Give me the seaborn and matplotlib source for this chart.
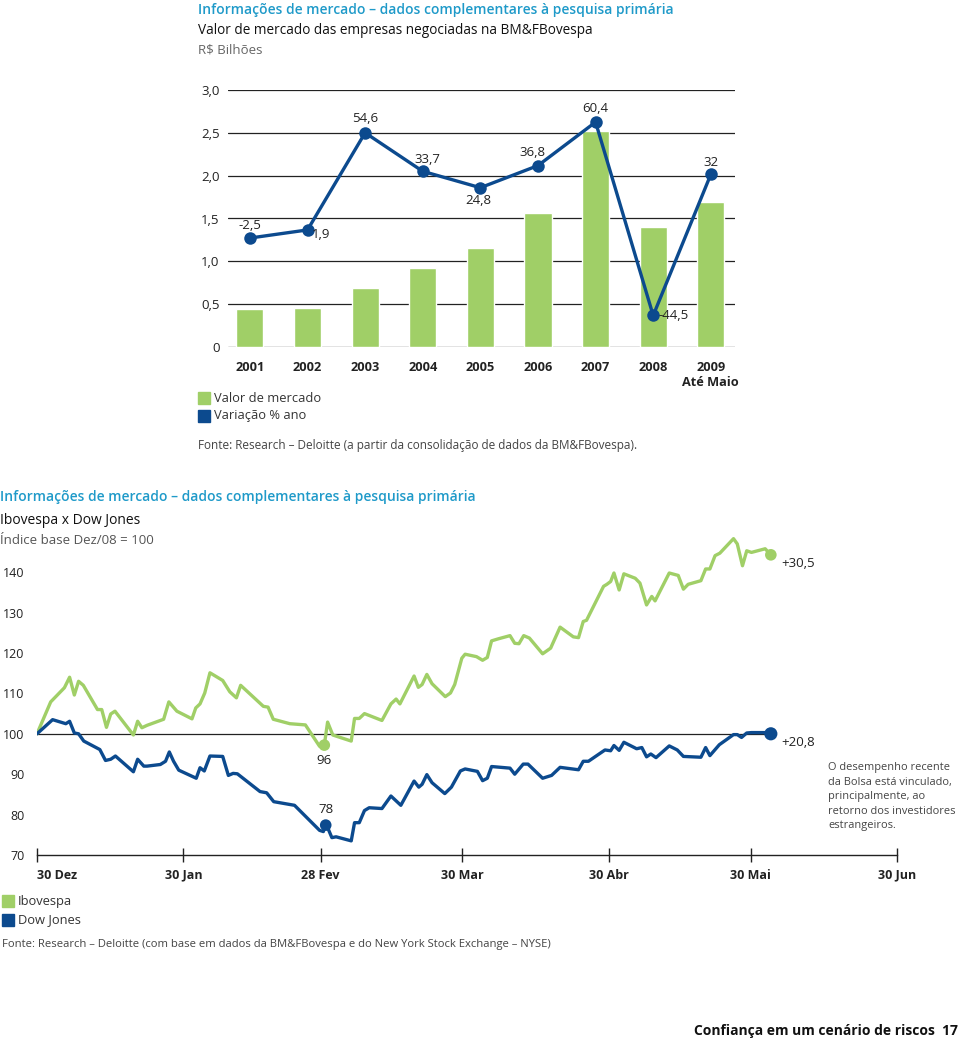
import numpy as np
import pandas as pd
import matplotlib
matplotlib.use("Agg")
import matplotlib.pyplot as plt
import seaborn as sns
from matplotlib.patches import Rectangle

GREEN = "#a0cf67"
BLUE = "#0c4a8e"
TEAL = "#1f9ac9"

# top chart: valor de mercado (R$ bilhões) and variação % ano
years = ["2001", "2002", "2003", "2004", "2005", "2006", "2007", "2008", "2009"]
market_value = [0.44, 0.45, 0.69, 0.92, 1.15, 1.57, 2.52, 1.40, 1.69]
pct_change = [-2.5, 1.9, 54.6, 33.7, 24.8, 36.8, 60.4, -44.5, 32]
pct_labels = ["-2,5", "1,9", "54,6", "33,7", "24,8", "36,8", "60,4", "-44,5", "32"]
top_yticks = [0, 0.5, 1.0, 1.5, 2.0, 2.5, 3.0]
top_yticklabels = ["0", "0,5", "1,0", "1,5", "2,0", "2,5", "3,0"]

# bottom chart: days since 30 Dez 2008, index base Dez/08 = 100
ibov_day = [0, 2.9, 5.8, 6.9, 7.9, 8.8, 9.8, 12.8, 13.7, 14.7, 15.6, 16.5, 20.4, 21.3,
            22.2, 23.3, 26.8, 27.9, 29.6, 32.8, 33.6, 34.5, 35.5, 36.6, 39.3, 40.8,
            42.2, 43.1, 47.9, 48.9, 50.0, 53.5, 56.8, 59.8, 60.8, 61.5, 62.6, 66.5,
            67.2, 68.2, 69.3, 73.0, 74.9, 76.0, 76.8, 79.8, 80.7, 81.5, 82.5, 83.6,
            86.4, 87.5, 88.4, 89.9, 90.6, 93.0, 94.3, 95.3, 96.2, 97.6, 100.1, 101.1,
            102.0, 103.0, 104.2, 107.0, 108.7, 110.7, 113.5, 114.6, 115.6, 116.3,
            119.9, 120.6, 121.4, 122.1, 123.2, 124.2, 126.6, 127.6, 129.0, 130.1,
            130.8, 133.8, 135.7, 136.8, 137.8, 140.5, 141.5, 142.4, 143.5, 144.5,
            147.4, 148.2, 149.3, 150.2, 151.2, 154.1, 155.3]
ibov_val = [100, 107.9, 111.4, 114.0, 109.6, 113.0, 112.0, 106.0, 106.0, 101.6, 104.9,
            105.6, 99.7, 103.1, 101.5, 102.1, 103.6, 107.9, 105.6, 103.7, 106.4, 107.4,
            110.1, 115.1, 113.2, 110.4, 108.9, 112.0, 106.8, 106.6, 103.6, 102.5, 102.2,
            96.9, 97.2, 102.9, 99.7, 98.2, 103.8, 103.8, 105.0, 103.3, 107.4, 108.6,
            107.4, 114.3, 111.5, 112.2, 114.7, 112.4, 109.2, 110.1, 112.2, 118.7, 119.7,
            119.1, 118.2, 118.9, 123.0, 123.5, 124.3, 122.4, 122.3, 124.3, 123.7, 119.8,
            121.2, 126.4, 124.0, 123.8, 127.8, 128.1, 136.5, 137.0, 137.7, 139.8, 135.6,
            139.6, 138.5, 137.3, 131.9, 134.0, 132.9, 139.8, 139.2, 135.8, 137.0, 137.9,
            140.8, 140.8, 144.1, 144.7, 148.3, 147.0, 141.6, 145.3, 144.9, 145.8, 144.3]

dow_day = [0, 3.3, 6.1, 6.9, 7.9, 8.8, 9.9, 13.3, 14.5, 15.6, 16.6, 20.4, 21.3, 22.6,
           23.3, 26.1, 27.2, 28.0, 28.9, 30.0, 33.7, 34.5, 35.4, 36.6, 39.3, 40.5, 41.5,
           42.4, 47.2, 48.6, 50.1, 54.5, 59.8, 60.6, 61.1, 61.5, 62.4, 63.3, 66.5, 67.2,
           68.2, 69.3, 70.3, 73.0, 74.9, 77.0, 79.8, 80.8, 81.5, 82.5, 83.6, 86.3, 87.7,
           89.6, 90.6, 93.2, 94.3, 95.3, 96.2, 100.1, 101.1, 102.9, 103.9, 107.0, 108.9,
           110.7, 114.6, 115.6, 116.7, 120.2, 121.4, 122.1, 123.2, 124.2, 126.9, 128.0,
           129.0, 129.9, 131.0, 133.8, 135.5, 136.8, 140.5, 141.5, 142.4, 144.4, 147.4,
           148.2, 149.1, 150.2, 151.2, 154.1, 155.3]
dow_val = [100, 103.5, 102.5, 103.1, 100.2, 100.0, 98.2, 96.1, 93.4, 93.7, 94.5, 90.6,
           93.7, 92.0, 92.0, 92.4, 93.2, 95.5, 93.2, 91.0, 89.0, 91.6, 90.8, 94.5, 94.4,
           89.7, 90.2, 90.1, 85.7, 85.4, 83.2, 82.3, 76.1, 75.8, 77.4, 76.8, 74.3, 74.5,
           73.5, 78.0, 78.0, 81.0, 81.7, 81.5, 84.6, 82.3, 88.3, 86.8, 87.5, 89.9, 87.9,
           85.2, 86.8, 90.8, 91.3, 90.7, 88.4, 89.0, 91.9, 91.5, 90.0, 92.5, 92.5, 89.0,
           89.7, 91.7, 91.1, 93.2, 93.2, 96.0, 95.8, 97.1, 95.9, 97.9, 96.3, 96.6, 94.3,
           95.0, 94.1, 97.0, 96.0, 94.4, 94.2, 96.6, 94.6, 97.3, 99.8, 99.8, 99.1, 100.2,
           100.3, 100.3, 100.0]

# highlighted points
low_day = [60.8, 61.1]
low_val = [97.2, 77.4]
low_labels = ["96", "78"]
end_labels = ["+30,5", "+20,8"]

base_date = pd.Timestamp("2008-12-30")
tick_dates = ["2008-12-30", "2009-01-30", "2009-02-28", "2009-03-30",
              "2009-04-30", "2009-05-30", "2009-06-30"]
tick_labels = ["30 Dez", "30 Jan", "28 Fev", "30 Mar", "30 Abr", "30 Mai", "30 Jun"]
bottom_yticks = [70, 80, 90, 100, 110, 120, 130, 140]

sns.set_theme(style="white")
plt.rcParams['font.family'] = ['Open Sans', 'DejaVu Sans']

W, H = 960, 1040
fig = plt.figure(figsize=(W / 100, H / 100), dpi=100)


def fx(x):
    return x / W


def fy(y):
    return 1 - y / H


def ftext(x, y, s, **kw):
    kw.setdefault("va", "center")
    fig.text(fx(x), fy(y), s, **kw)


# ---------- top chart ----------
ftext(198, 10, "Informações de mercado – dados complementares à pesquisa primária",
      color=TEAL, fontsize=10, fontweight="semibold")
ftext(198, 31, "Valor de mercado das empresas negociadas na BM&FBovespa",
      color="#111111", fontsize=9.8)
ftext(198, 50, "R$ Bilhões", color="#666666", fontsize=9.5)

ax1 = fig.add_axes([fx(228), fy(347), fx(735) - fx(228), fy(90) - fy(347)])
df_top = pd.DataFrame({"ano": years, "valor": market_value})
sns.barplot(data=df_top, x="ano", y="valor", color=GREEN, saturation=1,
            width=0.47, ax=ax1, zorder=2)
for t in top_yticks:
    ax1.axhline(t, color="#222222", lw=0.9, zorder=1)
ax1.set_xlim(-0.38, 8.42)
ax1.set_ylim(0, 3)
ax1.set_yticks(top_yticks)
ax1.set_yticklabels(top_yticklabels)
ax1.set_xticks(range(len(years)))
ax1.set_xticklabels(years[:-1] + [years[-1] + "\nAté Maio"], fontweight="bold",
                    linespacing=1.25)
ax1.tick_params(axis="x", length=0, pad=10, labelsize=9.2, colors="#222222")
ax1.tick_params(axis="y", length=0, pad=6, labelsize=9.5, colors="#222222")
ax1.set_xlabel("")
ax1.set_ylabel("")
sns.despine(ax=ax1, left=True, bottom=True)

ax2 = ax1.twinx()
sns.lineplot(x=years, y=pct_change, ax=ax2, color=BLUE, lw=2.4, marker="o",
             markersize=9, markeredgewidth=0, sort=False, zorder=3)
ax2.set_ylim(-61.6, 77.8)
ax2.set_axis_off()

top_offsets = [(0, 13, "center"), (4, -5, "left"), (0, 14, "center"), (5, 12, "center"),
               (-2, -13, "center"), (-6, 13, "center"), (0, 14, "center"),
               (5, 0, "left"), (0, 12, "center")]
for i, (lab, v) in enumerate(zip(pct_labels, pct_change)):
    dx, dy, ha = top_offsets[i]
    ax2.annotate(lab, (i, v), xytext=(dx, dy), textcoords="offset pixels",
                 ha=ha, va="center", fontsize=9.5, color="#222222")

fig.add_artist(Rectangle((fx(198), fy(404)), fx(12), 12 / H, color=GREEN,
                         transform=fig.transFigure))
fig.add_artist(Rectangle((fx(198), fy(422)), fx(12), 12 / H, color=BLUE,
                         transform=fig.transFigure))
ftext(214, 398, "Valor de mercado", color="#333333", fontsize=9.3)
ftext(214, 416, "Variação % ano", color="#333333", fontsize=9.3)
ftext(198, 445, "Fonte: Research – Deloitte (a partir da consolidação de dados da BM&FBovespa).",
      color="#444444", fontsize=8.5)

# ---------- bottom chart ----------
ftext(0, 497, "Informações de mercado – dados complementares à pesquisa primária",
      color=TEAL, fontsize=10, fontweight="semibold")
ftext(0, 521, "Ibovespa x Dow Jones", color="#111111", fontsize=10)
ftext(0, 540, "Índice base Dez/08 = 100", color="#555555", fontsize=9.5)

ax3 = fig.add_axes([fx(37), fy(855), fx(897) - fx(37), fy(531.8) - fy(855)])
df_ibov = pd.DataFrame({"dia": ibov_day, "indice": ibov_val})
df_dow = pd.DataFrame({"dia": dow_day, "indice": dow_val})
ax3.plot([0, ibov_day[-1]], [100, 100], color="#222222", lw=0.9, zorder=1)
sns.lineplot(data=df_ibov, x="dia", y="indice", color=GREEN, lw=2.4, sort=False,
             ax=ax3, zorder=2)
sns.lineplot(data=df_dow, x="dia", y="indice", color=BLUE, lw=2.4, sort=False,
             ax=ax3, zorder=2)
sns.scatterplot(x=low_day, y=low_val, hue=["ibov", "dow"],
                palette={"ibov": GREEN, "dow": BLUE}, s=70, linewidth=0,
                legend=False, ax=ax3, zorder=3)
sns.scatterplot(x=[ibov_day[-1], dow_day[-1]], y=[ibov_val[-1], dow_val[-1]],
                hue=["ibov", "dow"], palette={"ibov": GREEN, "dow": BLUE},
                s=[70, 90], linewidth=0, legend=False, ax=ax3, zorder=3)

ax3.annotate(low_labels[0], (low_day[0], low_val[0]), xytext=(0, -15),
             textcoords="offset pixels", ha="center", va="center", fontsize=9.5,
             color="#222222")
ax3.annotate(low_labels[1], (low_day[1], low_val[1]), xytext=(0, 16),
             textcoords="offset pixels", ha="center", va="center", fontsize=9.5,
             color="#222222")
ax3.annotate(end_labels[0], (ibov_day[-1], ibov_val[-1]), xytext=(10, -9),
             textcoords="offset pixels", ha="left", va="center", fontsize=9.5,
             color="#222222")
ax3.annotate(end_labels[1], (dow_day[-1], dow_val[-1]), xytext=(10, -9),
             textcoords="offset pixels", ha="left", va="center", fontsize=9.5,
             color="#222222")

tick_pos = (pd.to_datetime(tick_dates) - base_date).days
ax3.set_xlim(0, tick_pos[-1])
ax3.set_ylim(70, 150)
ax3.set_xticks(tick_pos)
ax3.set_xticklabels(tick_labels, fontweight="bold")
ax3.get_xticklabels()[0].set_horizontalalignment("left")
ax3.set_yticks(bottom_yticks)
ax3.set_yticklabels([str(v) for v in bottom_yticks])
ax3.tick_params(axis="x", direction="inout", length=10, width=1, color="#222222",
                pad=5, labelsize=9, labelcolor="#222222", bottom=True)
ax3.tick_params(axis="y", length=0, pad=9, labelsize=9, colors="#222222")
ax3.set_xlabel("")
ax3.set_ylabel("")
sns.despine(ax=ax3, left=True)
ax3.spines["bottom"].set_color("#222222")
ax3.spines["bottom"].set_linewidth(1)

ftext(828, 762, "O desempenho recente\nda Bolsa está vinculado,\nprincipalmente, ao\n"
      "retorno dos investidores\nestrangeiros.", va="top", color="#444444",
      fontsize=7.9, linespacing=1.45)

fig.add_artist(Rectangle((fx(2), fy(907)), fx(12), 12 / H, color=GREEN,
                         transform=fig.transFigure))
fig.add_artist(Rectangle((fx(2), fy(926)), fx(12), 12 / H, color=BLUE,
                         transform=fig.transFigure))
ftext(18, 901, "Ibovespa", color="#333333", fontsize=9.3)
ftext(18, 920, "Dow Jones", color="#333333", fontsize=9.3)
ftext(2, 945, "Fonte: Research – Deloitte (com base em dados da BM&FBovespa e do "
      "New York Stock Exchange – NYSE)", color="#444444", fontsize=8.1)

ftext(958, 1031, "Confiança em um cenário de riscos  17", ha="right",
      color="#111111", fontsize=10, fontweight="bold")

fig.savefig("out.png", dpi=100)
